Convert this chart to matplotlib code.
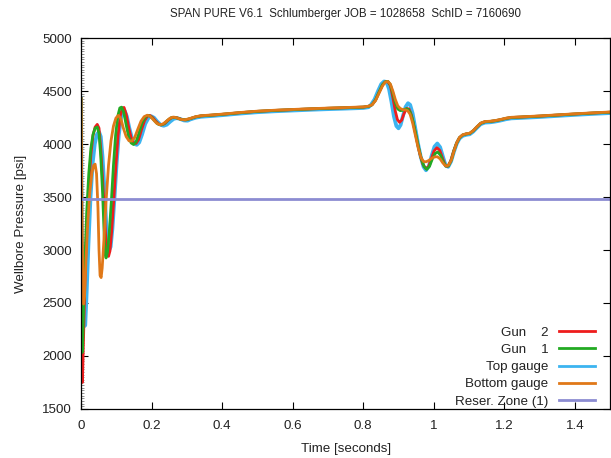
import matplotlib
matplotlib.use("Agg")
import matplotlib.pyplot as plt
from matplotlib.ticker import MultipleLocator

plt.rcParams['font.family'] = ['Liberation Sans', 'DejaVu Sans']

title = "SPAN PURE V6.1  Schlumberger JOB = 1028658  SchID = 7160690"
xlabel = "Time [seconds]"
ylabel = "Wellbore Pressure [psi]"
labels = ["Gun    2", "Gun    1", "Top gauge", "Bottom gauge", "Reser. Zone (1)"]
xticks = [0, 0.2, 0.4, 0.6, 0.8, 1.0, 1.2, 1.4]
xticklabels = ["0", "0.2", "0.4", "0.6", "0.8", "1", "1.2", "1.4"]
yticks = [1500, 2000, 2500, 3000, 3500, 4000, 4500, 5000]

# ---- Gun 2 (red) ----
red_early_t = [0, 0.001, 0.002, 0.004, 0.007, 0.011, 0.016, 0.022, 0.028, 0.034, 0.040, 0.046, 0.051,
               0.056, 0.061, 0.066, 0.070, 0.074, 0.078, 0.082, 0.087, 0.093, 0.099, 0.105, 0.111,
               0.117, 0.122, 0.128, 0.135, 0.142, 0.149, 0.156, 0.163, 0.171, 0.180, 0.188, 0.195,
               0.203, 0.212, 0.220, 0.228, 0.237, 0.247, 0.257, 0.266, 0.276, 0.287, 0.298]
red_early_p = [4430, 3000, 1760, 1750, 2150, 2700, 3200, 3600, 3900, 4080, 4160, 4185, 4150,
               3950, 3680, 3380, 3120, 2970, 2940, 2990, 3180, 3480, 3800, 4080, 4260,
               4340, 4345, 4280, 4160, 4060, 4010, 4005, 4040, 4130, 4220, 4262, 4270,
               4250, 4215, 4188, 4180, 4192, 4225, 4248, 4252, 4243, 4230, 4228]
red_event_t = [0.825, 0.835, 0.845, 0.855, 0.863, 0.870, 0.877, 0.884, 0.891, 0.897, 0.903, 0.909,
               0.916, 0.923, 0.930, 0.937, 0.945, 0.953, 0.961, 0.969, 0.977, 0.985, 0.993, 1.001,
               1.009, 1.017, 1.025, 1.033, 1.040, 1.048, 1.056]
red_event_p = [4370, 4415, 4490, 4560, 4588, 4588, 4550, 4440, 4310, 4230, 4205, 4225,
               4290, 4335, 4330, 4270, 4150, 4020, 3900, 3810, 3770, 3785, 3860, 3935,
               3965, 3940, 3865, 3795, 3790, 3840, 3930]

# ---- Gun 1 (green) ----
green_early_t = [0, 0.001, 0.002, 0.004, 0.007, 0.011, 0.016, 0.022, 0.028, 0.034, 0.040, 0.046,
                 0.051, 0.056, 0.061, 0.065, 0.068, 0.071, 0.075, 0.080, 0.086, 0.092, 0.098, 0.104,
                 0.110, 0.115, 0.121, 0.128, 0.135, 0.142, 0.149, 0.156, 0.164, 0.173, 0.182, 0.191,
                 0.199, 0.208, 0.217, 0.226, 0.235, 0.245, 0.255, 0.264, 0.274, 0.285, 0.297]
green_early_p = [4430, 3000, 2030, 2040, 2400, 2900, 3350, 3720, 3960, 4090, 4150, 4160,
                 4100, 3880, 3550, 3200, 2960, 2925, 2980, 3160, 3460, 3800, 4080, 4260,
                 4340, 4348, 4300, 4180, 4070, 4010, 3995, 4020, 4100, 4200, 4255, 4270,
                 4255, 4220, 4190, 4180, 4190, 4222, 4247, 4252, 4244, 4231, 4228]
green_event_t = [0.825, 0.835, 0.845, 0.855, 0.863, 0.870, 0.877, 0.884, 0.891, 0.898, 0.905,
                 0.912, 0.919, 0.926, 0.933, 0.940, 0.948, 0.956, 0.964, 0.972, 0.980, 0.988,
                 0.996, 1.004, 1.011, 1.019, 1.027, 1.035, 1.042, 1.050, 1.057]
green_event_p = [4370, 4415, 4490, 4560, 4588, 4590, 4560, 4480, 4390, 4330, 4315,
                 4318, 4330, 4330, 4300, 4230, 4110, 3980, 3870, 3790, 3760, 3790,
                 3860, 3910, 3925, 3895, 3830, 3790, 3795, 3850, 3935]

# ---- Top gauge (blue) ----
blue_early_t = [0, 0.002, 0.005, 0.009, 0.012, 0.016, 0.021, 0.027, 0.033, 0.039, 0.045, 0.051,
                0.056, 0.061, 0.066, 0.071, 0.076, 0.080, 0.084, 0.089, 0.095, 0.101, 0.107, 0.113,
                0.119, 0.124, 0.130, 0.137, 0.144, 0.151, 0.158, 0.165, 0.173, 0.182, 0.191, 0.199,
                0.207, 0.216, 0.225, 0.234, 0.243, 0.253, 0.263, 0.272, 0.282, 0.292, 0.302]
blue_early_p = [4430, 3200, 2500, 2280, 2290, 2600, 3050, 3500, 3820, 4000, 4090, 4115,
                4070, 3880, 3600, 3280, 3060, 3000, 3030, 3200, 3500, 3820, 4080, 4240,
                4305, 4312, 4260, 4150, 4060, 4005, 3992, 4015, 4090, 4190, 4245, 4262,
                4248, 4212, 4183, 4172, 4182, 4212, 4238, 4244, 4235, 4222, 4220]
blue_event_t = [0.822, 0.832, 0.842, 0.851, 0.859, 0.866, 0.873, 0.880, 0.887, 0.894, 0.900,
                0.906, 0.913, 0.920, 0.927, 0.933, 0.940, 0.947, 0.955, 0.963, 0.971, 0.978,
                0.986, 0.994, 1.002, 1.010, 1.018, 1.026, 1.034, 1.041, 1.049, 1.057]
blue_event_p = [4370, 4420, 4500, 4565, 4590, 4585, 4520, 4400, 4260, 4170, 4148,
                4180, 4270, 4350, 4385, 4370, 4290, 4160, 4010, 3880, 3785, 3752,
                3790, 3890, 3975, 4005, 3970, 3880, 3795, 3785, 3835, 3925]

# ---- Bottom gauge (orange) ----
orange_early_t = [0, 0.002, 0.005, 0.007, 0.010, 0.014, 0.019, 0.025, 0.031, 0.036, 0.040, 0.044,
                  0.048, 0.051, 0.054, 0.057, 0.060, 0.065, 0.071, 0.078, 0.085, 0.092, 0.099,
                  0.106, 0.113, 0.120, 0.128, 0.136, 0.144, 0.152, 0.161, 0.170, 0.179, 0.188,
                  0.196, 0.205, 0.214, 0.223, 0.232, 0.242, 0.252, 0.261, 0.271, 0.282, 0.294]
orange_early_p = [4430, 3600, 2700, 2490, 2560, 2900, 3250, 3550, 3730, 3800, 3810, 3720,
                  3400, 3000, 2760, 2740, 2830, 3100, 3460, 3800, 4030, 4170, 4245,
                  4270, 4240, 4150, 4070, 4030, 4028, 4060, 4140, 4215, 4258, 4272,
                  4262, 4230, 4197, 4182, 4188, 4215, 4243, 4254, 4248, 4233, 4228]
orange_event_t = [0.825, 0.835, 0.845, 0.855, 0.863, 0.870, 0.877, 0.884, 0.891, 0.898, 0.905,
                  0.912, 0.919, 0.926, 0.933, 0.940, 0.948, 0.956, 0.964, 0.971, 0.978, 0.986,
                  0.994, 1.002, 1.010, 1.018, 1.026, 1.034, 1.042, 1.050, 1.057]
orange_event_p = [4370, 4410, 4480, 4550, 4585, 4590, 4565, 4500, 4420, 4360, 4335,
                  4325, 4322, 4315, 4280, 4200, 4080, 3960, 3870, 3835, 3832, 3845,
                  3865, 3878, 3880, 3860, 3820, 3792, 3800, 3850, 3930]

# ---- shared segments (curves coincide) ----
plateau_t = [0.31, 0.325, 0.34, 0.37, 0.40, 0.45, 0.50, 0.55, 0.60, 0.65, 0.70, 0.75, 0.80, 0.815]
plateau_p = [4240, 4256, 4265, 4272, 4280, 4295, 4308, 4317, 4324, 4331, 4337, 4342, 4348, 4355]
tail_t = [1.065, 1.073, 1.082, 1.092, 1.102, 1.112, 1.122, 1.133, 1.145, 1.16, 1.175, 1.19,
          1.205, 1.22, 1.24, 1.27, 1.30, 1.35, 1.40, 1.45, 1.50]
tail_p = [4010, 4060, 4085, 4095, 4100, 4125, 4160, 4195, 4210, 4213, 4220, 4230,
          4242, 4250, 4253, 4258, 4263, 4273, 4283, 4292, 4300]

reser_t = [0.0, 1.5]
reser_p = [3480, 3480]

colors = ["#ee1c1c", "#22aa22", "#3cb4f0", "#e07818", "#8c8cd2"]
text_color = "#222222"


def series(early_t, early_p, event_t, event_p, offset=0.0):
    t = list(early_t) + plateau_t + list(event_t) + tail_t
    p = (list(early_p) + [v + offset for v in plateau_p] + list(event_p)
         + [v + offset for v in tail_p])
    return t, p


fig = plt.figure(figsize=(6.11, 4.58), dpi=100)
ax = fig.add_axes([0.1326, 0.107, 0.866, 0.810])

bt, bp = series(blue_early_t, blue_early_p, blue_event_t, blue_event_p, -8)
rt, rp = series(red_early_t, red_early_p, red_event_t, red_event_p)
gt, gp = series(green_early_t, green_early_p, green_event_t, green_event_p)
ot, op = series(orange_early_t, orange_early_p, orange_event_t, orange_event_p, 2)

h_blue, = ax.plot(bt, bp, color=colors[2], lw=2.7, solid_joinstyle='round')
h_red, = ax.plot(rt, rp, color=colors[0], lw=2.0, solid_joinstyle='round')
h_green, = ax.plot(gt, gp, color=colors[1], lw=2.0, solid_joinstyle='round')
h_orange, = ax.plot(ot, op, color=colors[3], lw=2.0, solid_joinstyle='round')
h_res, = ax.plot(reser_t, reser_p, color=colors[4], lw=2.0)

ax.set_xlim(0, 1.5)
ax.set_ylim(1500, 5000)
ax.set_xticks(xticks)
ax.set_xticklabels(xticklabels)
ax.set_yticks(yticks)
ax.yaxis.set_minor_locator(MultipleLocator(25))
ax.tick_params(which='major', direction='in', length=5, width=0.8, top=True, right=True,
               labelsize=9.6, labelcolor=text_color)
ax.tick_params(which='minor', axis='y', direction='in', length=2, width=0.5, color='#666666',
               left=True, right=False)
ax.tick_params(axis='x', pad=8)
ax.tick_params(axis='y', pad=6.5)
for s in ax.spines.values():
    s.set_linewidth(0.9)

fig.text((81 + 611) / 2 / 611, 1 - 14 / 458, title, fontsize=8.3, ha='center', va='center',
         color=text_color)
ax.set_xlabel(xlabel, fontsize=9.6, labelpad=8, color=text_color)
ax.set_ylabel(ylabel, fontsize=9.6, labelpad=11, color=text_color)

leg = ax.legend([h_red, h_green, h_blue, h_orange, h_res], labels, loc='lower right',
                bbox_to_anchor=(515 / 530, 0.004), frameon=False, markerfirst=False,
                fontsize=9.6, handlelength=2.7, handletextpad=0.8, labelspacing=0.36,
                borderpad=0, borderaxespad=0)
for text in leg.get_texts():
    text.set_color(text_color)
for line in leg.get_lines():
    line.set_linewidth(2.0)

fig.savefig("out.png", dpi=100)
